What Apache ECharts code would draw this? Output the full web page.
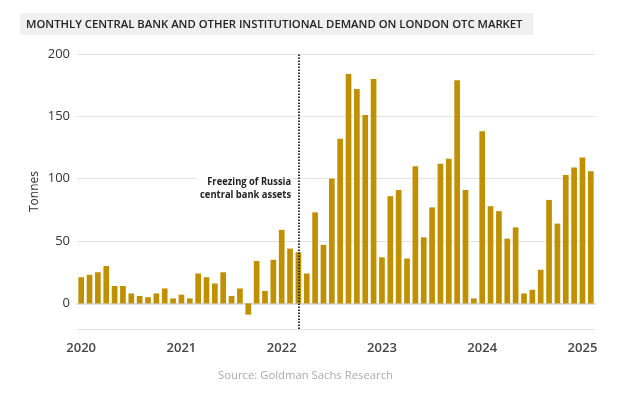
<!DOCTYPE html>
<html>
<head>
<meta charset="utf-8">
<script src="https://cdn.jsdelivr.net/npm/echarts@6/dist/echarts.min.js"></script>
<style>
html,body{margin:0;padding:0;background:#fff;}
#chart{width:624px;height:394px;}
</style>
</head>
<body>
<div id="chart"></div>
<script>
const months = [];
for (let y = 2020; y <= 2025; y++) {
  for (let m = 1; m <= 12; m++) {
    if (y === 2025 && m > 2) break;
    months.push(y + '-' + (m < 10 ? '0' + m : m));
  }
}
const demand = [
  21, 23, 25, 30, 14, 14, 8, 6, 5, 8, 12, 4,
  7, 4, 24, 21, 16, 25, 6, 12, -9, 34, 10, 35,
  59, 44, 41, 24, 73, 47, 100, 132, 184, 172, 151, 180,
  37, 86, 91, 36, 110, 53, 77, 112, 116, 179, 91, 4,
  138, 78, 74, 52, 61, 8, 11, 27, 83, 64, 103, 109,
  117, 106
];
const titleText = 'MONTHLY CENTRAL BANK AND OTHER INSTITUTIONAL DEMAND ON LONDON OTC MARKET';
const eventMonth = '2022-03';
const eventLabel = 'Freezing of Russia\ncentral bank assets';
const sourceText = 'Source: Goldman Sachs Research';
const yName = 'Tonnes';

const FONT = '"Open Sans", sans-serif';
const chart = echarts.init(document.getElementById('chart'), null, {renderer: 'canvas'});
chart.setOption({
  animation: false,
  title: {
    text: titleText,
    left: 20, top: 13,
    padding: [5, 11, 3, 6],
    backgroundColor: '#efefef',
    textStyle: {fontFamily: FONT, fontSize: 11.3, fontWeight: 600, color: '#222', lineHeight: 14}
  },
  grid: {left: 77, right: 29, top: 54, bottom: 65},
  xAxis: {
    type: 'category',
    data: months,
    boundaryGap: true,
    axisLine: {lineStyle: {color: '#d4d4d4', width: 1.5}},
    axisTick: {
      alignWithLabel: true,
      length: 6,
      lineStyle: {color: '#d4d4d4'},
      interval: (i) => i % 12 === 0
    },
    axisLabel: {
      interval: (i) => i % 12 === 0,
      formatter: (v) => v.slice(0, 4),
      margin: 13,
      fontFamily: FONT, fontSize: 13, fontWeight: 600, color: '#444'
    },
    splitLine: {show: false}
  },
  yAxis: {
    type: 'value',
    min: -20.5, max: 200,
    splitNumber: 5,
    name: yName,
    nameLocation: 'middle',
    nameRotate: 90,
    nameGap: 36,
    nameMoveOverlap: false,
    nameTextStyle: {fontFamily: FONT, fontSize: 12, color: '#333'},
    axisLine: {show: false},
    axisTick: {show: false},
    axisLabel: {
      showMinLabel: false,
      formatter: (v) => (v < 0 ? '' : String(v)),
      margin: 7,
      fontFamily: FONT, fontSize: 13, color: '#333'
    },
    splitLine: {lineStyle: {color: '#e2e2e2', width: 1}}
  },
  series: [{
    type: 'bar',
    data: demand,
    barWidth: '68%',
    itemStyle: {color: '#C09000'},
    markLine: {
      silent: true,
      symbol: 'none',
      label: {show: false},
      lineStyle: {color: '#333', type: [1.5, 1.5], width: 2},
      data: [{xAxis: eventMonth}]
    }
  }],
  graphic: [
    {
      type: 'text',
      x: 292, y: 175.5,
      scaleX: 0.92,
      z: 100,
      style: {
        text: eventLabel,
        align: 'right',
        verticalAlign: 'top',
        lineHeight: 13,
        font: '700 10.2px ' + FONT,
        fill: '#222',
        backgroundColor: '#fff',
        padding: [0, 1, 0, 4]
      }
    },
    {
      type: 'text',
      x: 218, y: 376,
      style: {
        text: sourceText,
        align: 'left',
        verticalAlign: 'middle',
        font: '11.3px ' + FONT,
        fill: '#aaa'
      }
    }
  ]
});
</script>
</body>
</html>
